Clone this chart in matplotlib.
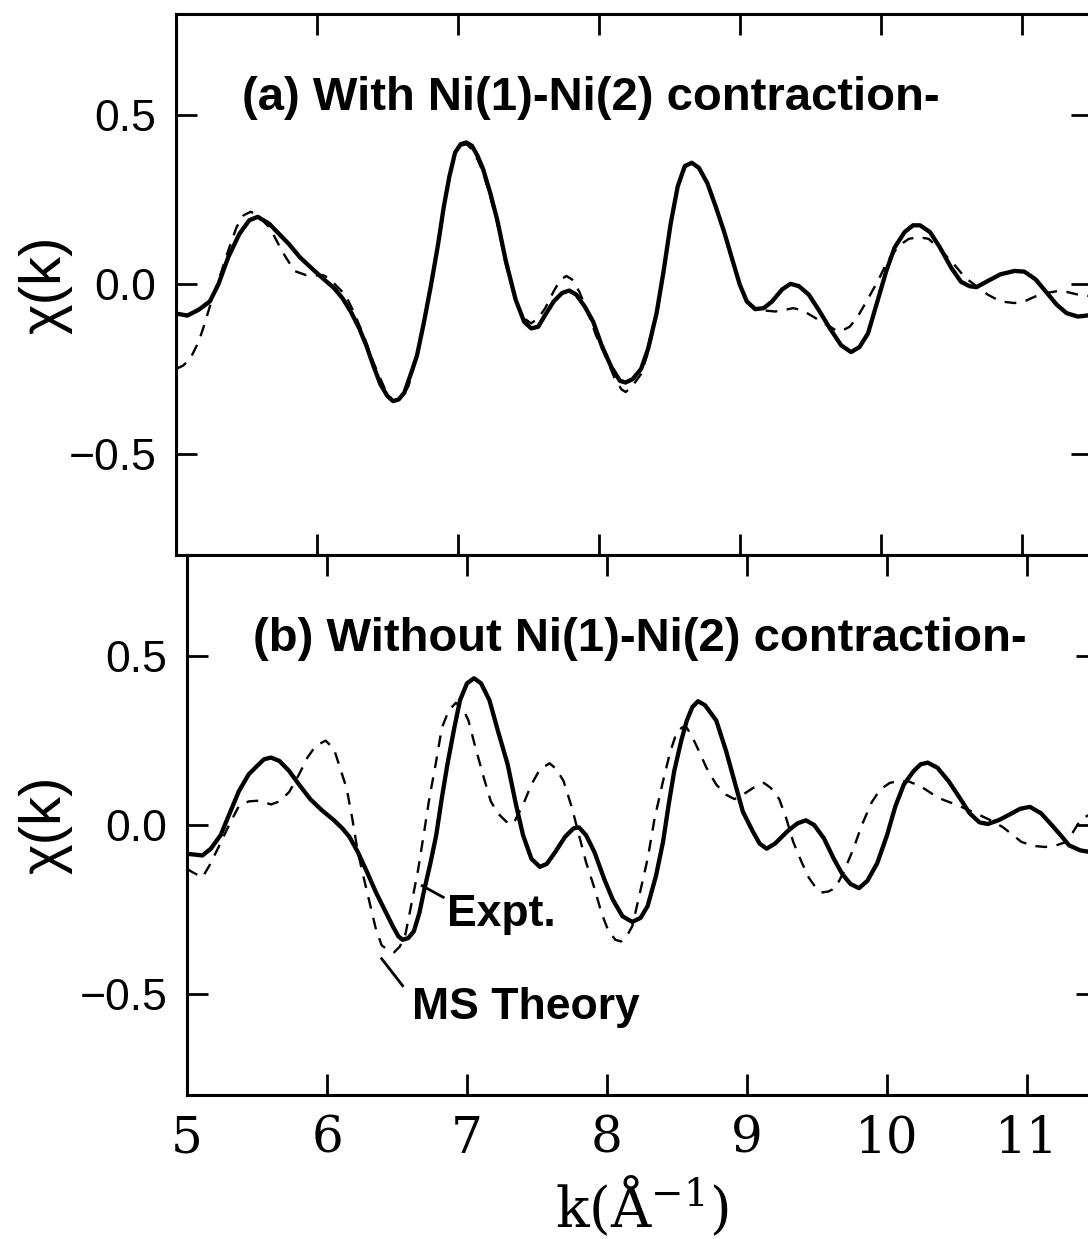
import matplotlib
matplotlib.use("Agg")
import matplotlib.pyplot as plt

k_a_expt = [5.00, 5.08, 5.16, 5.24, 5.30, 5.37, 5.45, 5.52, 5.58, 5.66, 5.73, 5.80, 5.88, 5.97,
            6.05, 6.12, 6.18, 6.24, 6.30, 6.35, 6.40, 6.45, 6.50, 6.54, 6.58, 6.62, 6.67, 6.71,
            6.76, 6.81, 6.86, 6.90, 6.94, 6.98, 7.02, 7.06, 7.10, 7.14, 7.18, 7.23, 7.28, 7.34,
            7.41, 7.47, 7.52, 7.57, 7.62, 7.68, 7.74, 7.79, 7.84, 7.90, 7.96, 8.02, 8.09, 8.15,
            8.19, 8.24, 8.30, 8.35, 8.41, 8.46, 8.51, 8.56, 8.61, 8.66, 8.71, 8.77, 8.83, 8.89,
            8.95, 9.00, 9.05, 9.11, 9.17, 9.23, 9.30, 9.36, 9.42, 9.49, 9.56, 9.64, 9.72, 9.79,
            9.85, 9.91, 9.97, 10.04, 10.10, 10.17, 10.23, 10.28, 10.35, 10.42, 10.50, 10.57,
            10.63, 10.68, 10.75, 10.85, 10.95, 11.02, 11.10, 11.17, 11.25, 11.32, 11.40, 11.50]
chi_a_expt = [-0.086, -0.092, -0.075, -0.05, 0.00, 0.08, 0.15, 0.19, 0.20, 0.18, 0.15, 0.12, 0.08, 0.045,
              0.015, -0.01, -0.04, -0.08, -0.13, -0.18, -0.24, -0.295, -0.33, -0.345, -0.34, -0.32, -0.26, -0.21,
              -0.11, 0.00, 0.12, 0.23, 0.32, 0.39, 0.415, 0.42, 0.41, 0.38, 0.34, 0.27, 0.19, 0.07,
              -0.045, -0.11, -0.13, -0.125, -0.09, -0.05, -0.025, -0.018, -0.03, -0.065, -0.11, -0.18, -0.245, -0.285,
              -0.29, -0.28, -0.25, -0.19, -0.085, 0.04, 0.18, 0.29, 0.35, 0.36, 0.345, 0.30, 0.23, 0.155,
              0.07, 0.00, -0.05, -0.073, -0.07, -0.05, -0.015, 0.002, -0.005, -0.03, -0.075, -0.13, -0.18, -0.20,
              -0.185, -0.145, -0.06, 0.04, 0.11, 0.155, 0.175, 0.175, 0.155, 0.11, 0.05, 0.008,
              -0.005, -0.008, 0.008, 0.03, 0.04, 0.038, 0.015, -0.02, -0.06, -0.085, -0.095, -0.09]

k_a_teo = [5.00, 5.05, 5.10, 5.16, 5.20, 5.24, 5.30, 5.37, 5.43, 5.48, 5.53, 5.58, 5.67, 5.75,
           5.84, 5.92, 5.97, 6.04, 6.09, 6.14, 6.20, 6.26, 6.33, 6.40, 6.48, 6.53, 6.56, 6.60,
           6.65, 6.71, 6.76, 6.81, 6.86, 6.90, 6.94, 6.98, 7.02, 7.06, 7.10, 7.14, 7.18, 7.23,
           7.28, 7.34, 7.41, 7.47, 7.52, 7.57, 7.62, 7.68, 7.73, 7.77, 7.81, 7.86, 7.92, 7.98,
           8.05, 8.11, 8.16, 8.19, 8.23, 8.30, 8.35, 8.41, 8.46, 8.51, 8.56, 8.61, 8.66, 8.71,
           8.77, 8.83, 8.89, 8.95, 9.00, 9.05, 9.11, 9.18, 9.25, 9.32, 9.38, 9.44, 9.50, 9.56,
           9.62, 9.68, 9.72, 9.78, 9.83, 9.90, 9.98, 10.05, 10.13, 10.20, 10.27, 10.34, 10.42,
           10.52, 10.60, 10.68, 10.76, 10.85, 10.95, 11.03, 11.10, 11.18, 11.25, 11.32, 11.40, 11.50]
chi_a_teo = [-0.25, -0.24, -0.22, -0.17, -0.12, -0.065, 0.01, 0.10, 0.17, 0.205, 0.215, 0.205, 0.165, 0.10,
             0.04, 0.028, 0.026, 0.028, 0.018, -0.005, -0.03, -0.08, -0.15, -0.23, -0.307, -0.34, -0.345, -0.335,
             -0.30, -0.21, -0.11, 0.00, 0.12, 0.23, 0.32, 0.39, 0.41, 0.415, 0.40, 0.37, 0.33, 0.26,
             0.18, 0.06, -0.05, -0.10, -0.115, -0.10, -0.07, -0.02, 0.015, 0.025, 0.015, -0.02, -0.08, -0.15,
             -0.215, -0.275, -0.31, -0.318, -0.305, -0.265, -0.20, -0.09, 0.04, 0.18, 0.29, 0.345, 0.36, 0.345,
             0.30, 0.23, 0.155, 0.07, 0.00, -0.05, -0.07, -0.077, -0.08, -0.075, -0.07, -0.076, -0.09, -0.105,
             -0.12, -0.135, -0.138, -0.125, -0.10, -0.05, 0.01, 0.07, 0.115, 0.135, 0.14, 0.135, 0.105,
             0.06, 0.02, -0.005, -0.03, -0.05, -0.055, -0.048, -0.035, -0.025, -0.02, -0.022, -0.03, -0.035]

k_b_expt = [5.00, 5.04, 5.11, 5.17, 5.24, 5.30, 5.37, 5.44, 5.50, 5.55, 5.60, 5.66, 5.73, 5.80,
            5.88, 5.96, 6.05, 6.11, 6.16, 6.22, 6.28, 6.35, 6.41, 6.47, 6.51, 6.54, 6.58, 6.62,
            6.66, 6.69, 6.74, 6.78, 6.82, 6.86, 6.91, 6.95, 7.00, 7.05, 7.10, 7.16, 7.22, 7.29,
            7.35, 7.40, 7.46, 7.52, 7.57, 7.63, 7.70, 7.76, 7.80, 7.85, 7.91, 7.98, 8.04, 8.11,
            8.18, 8.24, 8.29, 8.35, 8.40, 8.44, 8.48, 8.53, 8.57, 8.61, 8.65, 8.70, 8.78, 8.85,
            8.91, 8.97, 9.04, 9.09, 9.14, 9.20, 9.29, 9.36, 9.42, 9.48, 9.55, 9.62, 9.68, 9.74,
            9.80, 9.86, 9.93, 10.00, 10.06, 10.12, 10.19, 10.24, 10.29, 10.36, 10.44, 10.52, 10.59,
            10.66, 10.72, 10.80, 10.87, 10.95, 11.02, 11.10, 11.17, 11.24, 11.30, 11.38, 11.45, 11.50]
chi_b_expt = [-0.085, -0.087, -0.09, -0.07, -0.03, 0.03, 0.10, 0.15, 0.175, 0.195, 0.20, 0.19, 0.16, 0.12,
              0.077, 0.045, 0.014, -0.01, -0.035, -0.08, -0.134, -0.20, -0.25, -0.30, -0.33, -0.34, -0.335, -0.315,
              -0.26, -0.20, -0.11, -0.03, 0.08, 0.18, 0.29, 0.37, 0.42, 0.435, 0.42, 0.37, 0.28, 0.18,
              0.06, -0.03, -0.10, -0.124, -0.115, -0.08, -0.035, -0.01, -0.007, -0.03, -0.08, -0.16, -0.22, -0.27,
              -0.287, -0.275, -0.24, -0.15, -0.05, 0.06, 0.16, 0.25, 0.31, 0.35, 0.367, 0.355, 0.31, 0.22,
              0.13, 0.04, -0.018, -0.055, -0.07, -0.055, -0.018, 0.005, 0.014, 0.00, -0.04, -0.10, -0.145, -0.175,
              -0.187, -0.165, -0.113, -0.03, 0.056, 0.12, 0.16, 0.18, 0.185, 0.17, 0.13, 0.08, 0.035,
              0.008, 0.003, 0.015, 0.03, 0.048, 0.054, 0.035, 0.003, -0.03, -0.06, -0.075, -0.08, -0.08]

k_b_teo = [5.00, 5.04, 5.11, 5.16, 5.22, 5.30, 5.37, 5.44, 5.50, 5.55, 5.60, 5.66, 5.73, 5.80,
           5.86, 5.92, 5.99, 6.05, 6.10, 6.14, 6.18, 6.22, 6.27, 6.31, 6.35, 6.39, 6.44, 6.48,
           6.52, 6.56, 6.60, 6.65, 6.69, 6.73, 6.78, 6.82, 6.87, 6.92, 6.97, 7.01, 7.06, 7.12,
           7.17, 7.22, 7.28, 7.33, 7.40, 7.46, 7.52, 7.59, 7.64, 7.69, 7.75, 7.80, 7.85, 7.91,
           7.96, 8.01, 8.06, 8.10, 8.14, 8.18, 8.23, 8.29, 8.34, 8.40, 8.45, 8.50, 8.54, 8.57,
           8.61, 8.65, 8.71, 8.78, 8.85, 8.91, 8.97, 9.04, 9.09, 9.12, 9.17, 9.23, 9.28, 9.33,
           9.39, 9.44, 9.49, 9.53, 9.58, 9.63, 9.69, 9.76, 9.82, 9.89, 9.95, 10.02, 10.08, 10.15,
           10.24, 10.32, 10.40, 10.49, 10.58, 10.66, 10.75, 10.83, 10.90, 10.96, 11.05, 11.13,
           11.21, 11.28, 11.33, 11.38, 11.44, 11.50]
chi_b_teo = [-0.13, -0.14, -0.155, -0.12, -0.07, 0.00, 0.056, 0.07, 0.072, 0.068, 0.061, 0.07, 0.098, 0.15,
             0.20, 0.235, 0.25, 0.225, 0.16, 0.109, 0.02, -0.08, -0.17, -0.24, -0.31, -0.356, -0.372, -0.377,
             -0.36, -0.324, -0.24, -0.134, -0.03, 0.077, 0.19, 0.288, 0.34, 0.362, 0.345, 0.31, 0.23, 0.14,
             0.07, 0.035, 0.01, 0.003, 0.06, 0.12, 0.165, 0.183, 0.165, 0.13, 0.05, -0.03, -0.11, -0.187,
             -0.26, -0.314, -0.34, -0.345, -0.33, -0.30, -0.21, -0.10, 0.02, 0.13, 0.215, 0.278, 0.29, 0.288,
             0.26, 0.225, 0.17, 0.12, 0.09, 0.077, 0.09, 0.109, 0.122, 0.125, 0.11, 0.077, 0.02, -0.05,
             -0.11, -0.155, -0.185, -0.20, -0.197, -0.187, -0.14, -0.07, 0.00, 0.067, 0.105, 0.125, 0.13, 0.13,
             0.115, 0.093, 0.075, 0.061, 0.045, 0.03, 0.012, -0.007, -0.03, -0.05, -0.062, -0.065,
             -0.06, -0.05, -0.02, 0.014, 0.03, 0.04]

titulos = ["(a) With Ni(1)-Ni(2) contraction-", "(b) Without Ni(1)-Ni(2) contraction-"]
yticks = [-0.5, 0.0, 0.5]
xticks = [5, 6, 7, 8, 9, 10, 11]

plt.rcParams['mathtext.fontset'] = 'dejavuserif'

fig = plt.figure(figsize=(10.88, 12.39), dpi=100)
ax_a = fig.add_axes([0.1618, 0.5521, 0.8419, 0.4366])
ax_b = fig.add_axes([0.1719, 0.1162, 0.8364, 0.4358])

curvas = [(ax_a, k_a_expt, chi_a_expt, k_a_teo, chi_a_teo),
          (ax_b, k_b_expt, chi_b_expt, k_b_teo, chi_b_teo)]

for i, (ax, ke, ce, kt, ct) in enumerate(curvas):
    ax.plot(kt, ct, color='black', lw=1.7, linestyle=(0, (5, 4)))
    ax.plot(ke, ce, color='black', lw=3.1, solid_joinstyle='round', solid_capstyle='round')
    ax.set_xlim(5, 11.5)
    ax.set_ylim(-0.8, 0.8)
    ax.set_xticks(xticks)
    ax.set_yticks(yticks)
    ax.tick_params(direction='in', length=15, width=2, top=True, right=True, pad=14)
    for s in ax.spines.values():
        s.set_linewidth(2.2)
    for lab in ax.get_yticklabels():
        lab.set_fontfamily('Liberation Sans')
        lab.set_fontsize(32)
    ax.set_ylabel("χ(k)", fontsize=42, family='Liberation Sans')
    ax.text(5.47, 0.515, titulos[i], fontsize=34, fontweight='bold',
            family='Liberation Sans', ha='left', va='baseline')

ax_a.yaxis.set_label_coords(-0.113, 0.5)
ax_b.yaxis.set_label_coords(-0.126, 0.5)

ax_a.tick_params(labelbottom=False)
for lab in ax_b.get_xticklabels():
    lab.set_fontfamily('DejaVu Serif')
    lab.set_fontsize(36)
ax_b.set_xlabel(r"k(Å$^{-1}$)", fontsize=40, family='DejaVu Serif', labelpad=8)

# etiquetas con lineas guia
ax_b.plot([6.68, 6.83], [-0.18, -0.214], color='black', lw=2)
ax_b.text(6.86, -0.299, "Expt.", fontsize=32, fontweight='bold',
          family='Liberation Sans', ha='left', va='baseline')
ax_b.plot([6.39, 6.54], [-0.396, -0.476], color='black', lw=2)
ax_b.text(6.61, -0.574, "MS Theory", fontsize=32, fontweight='bold',
          family='Liberation Sans', ha='left', va='baseline')

fig.savefig("out.png", dpi=100)
